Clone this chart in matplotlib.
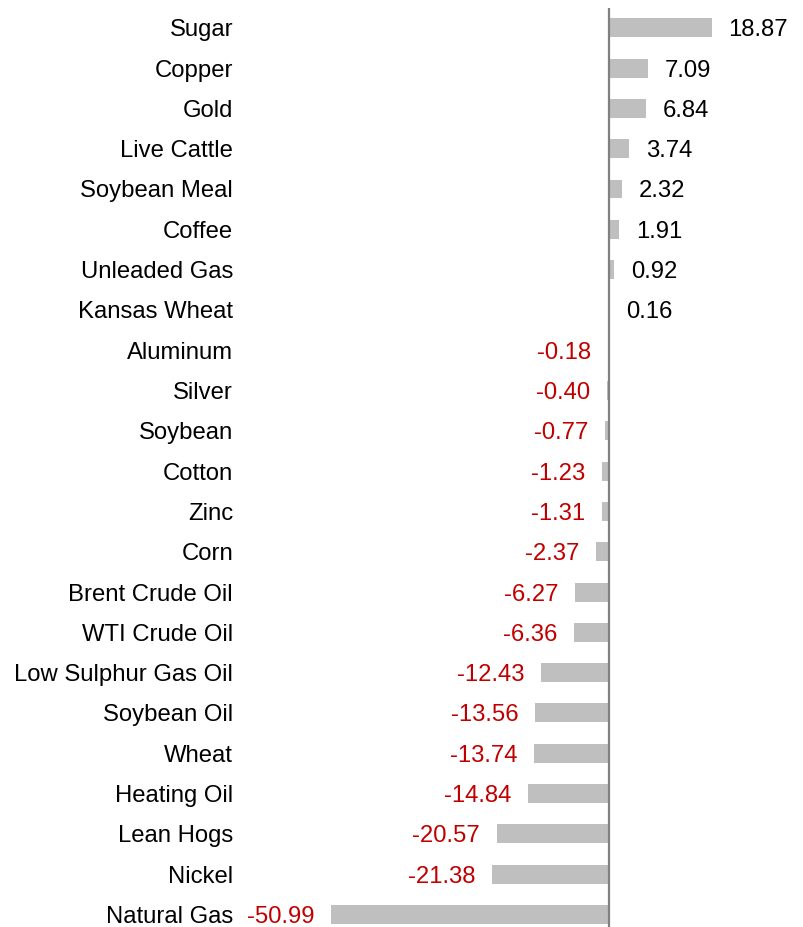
import numpy as np
import matplotlib
matplotlib.use("Agg")
import matplotlib.pyplot as plt

plt.rcParams['font.family'] = ['Liberation Sans', 'DejaVu Sans']

commodities = ["Sugar", "Copper", "Gold", "Live Cattle", "Soybean Meal", "Coffee",
               "Unleaded Gas", "Kansas Wheat", "Aluminum", "Silver", "Soybean",
               "Cotton", "Zinc", "Corn", "Brent Crude Oil", "WTI Crude Oil",
               "Low Sulphur Gas Oil", "Soybean Oil", "Wheat", "Heating Oil",
               "Lean Hogs", "Nickel", "Natural Gas"]
changes = [18.87, 7.09, 6.84, 3.74, 2.32, 1.91, 0.92, 0.16, -0.18, -0.40, -0.77,
           -1.23, -1.31, -2.37, -6.27, -6.36, -12.43, -13.56, -13.74, -14.84,
           -20.57, -21.38, -50.99]

W, H = 804, 927
fig = plt.figure(figsize=(W / 100, H / 100), dpi=100)
# axes box in pixels: left 240, right 800, top 8, bottom 927
ax = fig.add_axes([240 / W, 0, 560 / W, 919 / H])

y = np.arange(len(commodities))
ax.barh(y, changes, height=0.47, color="#bfbfbf")
ax.axvline(0, color="#808080", lw=1.6)

ax.set_xlim(-67.68, 35.03)
ax.set_ylim(len(commodities) - 1 + 0.31, -0.49)

fs = 17.2
for yi, v in zip(y, changes):
    if v >= 0:
        ax.annotate(f"{v:.2f}", (v, yi), xytext=(12, 0), textcoords="offset points",
                    ha="left", va="center_baseline", fontsize=fs, color="black")
    else:
        ax.annotate(f"{v:.2f}", (v, yi), xytext=(-12, 0), textcoords="offset points",
                    ha="right", va="center_baseline", fontsize=fs, color="#c00000")

ax.set_yticks(y)
ax.set_yticklabels(commodities, fontsize=fs)
ax.tick_params(axis="y", length=0, pad=5)
ax.set_xticks([])
for s in ax.spines.values():
    s.set_visible(False)

fig.savefig("out.png", dpi=100)
